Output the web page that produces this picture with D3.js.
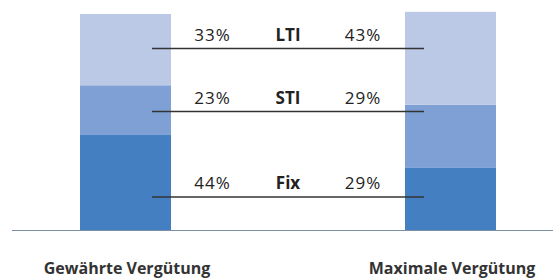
<!DOCTYPE html>
<html>
<head>
<meta charset="utf-8">
<script src="https://cdn.jsdelivr.net/npm/d3@7"></script>
<style>
  body { margin: 0; background: #fff; }
  svg { display: block; font-family: "Open Sans", sans-serif; }
</style>
</head>
<body>
<div id="chart"></div>
<script>
// Data
var categories = ["Gewährte Vergütung", "Maximale Vergütung"];
var components = ["Fix", "STI", "LTI"];
var gewaehrt = [44, 23, 33];
var maximal = [29, 29, 43];
var colors = ["#447fc2", "#7fa0d4", "#bbc8e6"];

// SVG area
var svgWidth = 553;
var svgHeight = 279;
var baseY = 230;

var svg = d3.select("#chart")
  .append("svg")
  .attr("width", svgWidth)
  .attr("height", svgHeight);

// Scales
var xScale = d3.scalePoint()
  .domain(categories)
  .range([125.5, 450.5]);

var yScale = d3.scaleLinear()
  .domain([0, 100])
  .range([baseY, 14]);

var barWidth = 91;

// Build stacked segments
var series = [gewaehrt, maximal];
var segments = [];
categories.forEach(function(cat, i) {
  var acc = 0;
  components.forEach(function(comp, j) {
    segments.push({ cat: cat, comp: comp, y0: acc, y1: acc + series[i][j], color: colors[j] });
    acc += series[i][j];
  });
});

svg.append("g")
  .selectAll("rect")
  .data(segments)
  .enter()
  .append("rect")
  .attr("x", d => xScale(d.cat) - barWidth / 2)
  .attr("width", barWidth)
  .attr("y", d => yScale(d.y1))
  .attr("height", d => yScale(d.y0) - yScale(d.y1))
  .attr("fill", d => d.color);

// Baseline
svg.append("line")
  .attr("x1", 12)
  .attr("x2", svgWidth)
  .attr("y1", baseY + 0.5)
  .attr("y2", baseY + 0.5)
  .attr("stroke", "#7b8fa6")
  .attr("stroke-width", 1);

// Label rows (Fix, STI, LTI), vertical position of the leader line
var rowY = [197, 111.5, 48.5];
var lineX1 = 152;
var lineX2 = 424;
var leftTextX = 212.5;
var midTextX = 288;
var rightTextX = 363;

var rows = svg.append("g")
  .selectAll("g")
  .data(components)
  .enter()
  .append("g");

rows.append("line")
  .attr("x1", lineX1)
  .attr("x2", lineX2)
  .attr("y1", (d, i) => rowY[i])
  .attr("y2", (d, i) => rowY[i])
  .attr("stroke", "#333")
  .attr("stroke-width", 1.3);

rows.append("text")
  .attr("x", leftTextX)
  .attr("y", (d, i) => rowY[i] - 8)
  .attr("text-anchor", "middle")
  .attr("font-size", "17px")
  .attr("letter-spacing", "1px")
  .attr("fill", "#222")
  .text((d, i) => gewaehrt[i] + "%");

rows.append("text")
  .attr("x", midTextX)
  .attr("y", (d, i) => rowY[i] - 8)
  .attr("text-anchor", "middle")
  .attr("font-size", "17px")
  .style("font-weight", "bold")
  .attr("fill", "#222")
  .text(d => d);

rows.append("text")
  .attr("x", rightTextX)
  .attr("y", (d, i) => rowY[i] - 8)
  .attr("text-anchor", "middle")
  .attr("font-size", "17px")
  .attr("letter-spacing", "1px")
  .attr("fill", "#222")
  .text((d, i) => maximal[i] + "%");

// Category labels
svg.append("g")
  .selectAll("text")
  .data(categories)
  .enter()
  .append("text")
  .attr("x", d => xScale(d) + 1.5)
  .attr("y", 274)
  .attr("text-anchor", "middle")
  .attr("font-size", "16px")
  .style("font-weight", "bold")
  .attr("fill", "#333")
  .text(d => d);
</script>
</body>
</html>
